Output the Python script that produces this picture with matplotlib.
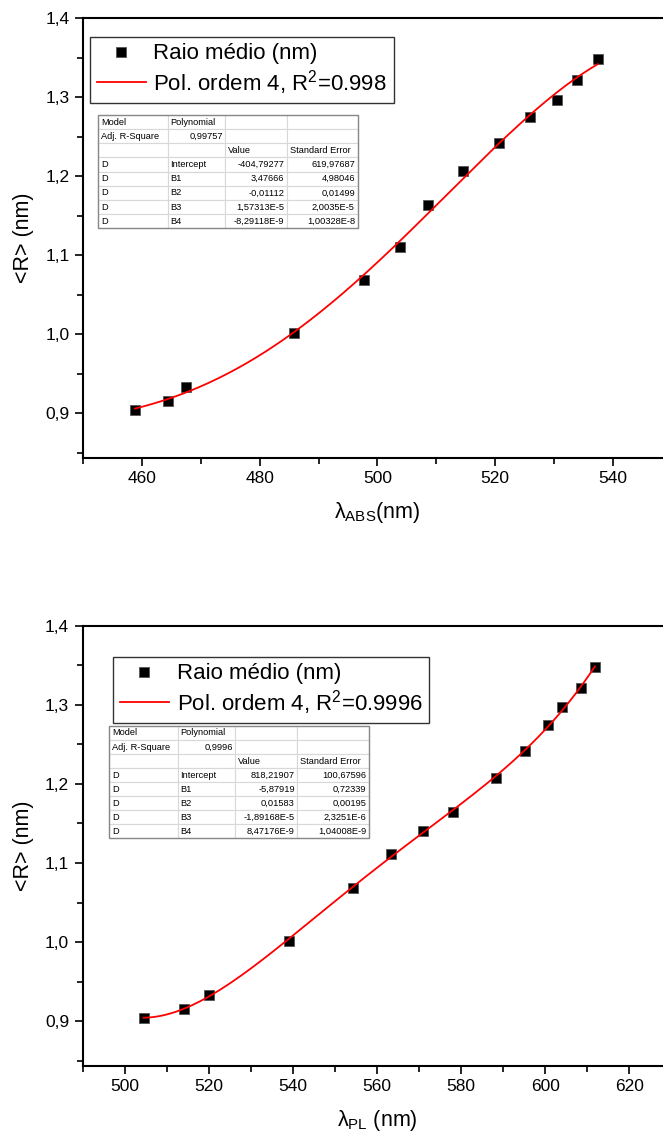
import numpy as np
import matplotlib
matplotlib.use("Agg")
import matplotlib.pyplot as plt
from matplotlib.ticker import MultipleLocator, FuncFormatter
from matplotlib.patches import Rectangle

plt.rcParams['font.family'] = ['Liberation Sans', 'DejaVu Sans']
plt.rcParams['mathtext.fontset'] = 'custom'
plt.rcParams['mathtext.rm'] = 'Liberation Sans'
plt.rcParams['mathtext.default'] = 'regular'

# top panel: absorption wavelength vs mean radius
abs_wl = [458.8, 464.4, 467.5, 485.9, 497.8, 503.9, 508.7, 514.6, 520.7, 526.0, 530.5, 533.9, 537.5]
abs_r = [0.904, 0.916, 0.933, 1.002, 1.069, 1.111, 1.164, 1.207, 1.242, 1.275, 1.297, 1.322, 1.349]

# bottom panel: PL wavelength vs mean radius
pl_wl = [504.4, 514.1, 520.0, 539.1, 554.2, 563.3, 570.8, 578.0, 588.3, 595.2, 600.6, 604.0, 608.5, 611.8]
pl_r = [0.904, 0.916, 0.933, 1.002, 1.069, 1.111, 1.141, 1.164, 1.207, 1.242, 1.274, 1.297, 1.321, 1.348]

abs_table = [["Model", "Polynomial", "", ""],
             ["Adj. R-Square", "0,99757", "", ""],
             ["", "", "Value", "Standard Error"],
             ["D", "Intercept", "-404,79277", "619,97687"],
             ["D", "B1", "3,47666", "4,98046"],
             ["D", "B2", "-0,01112", "0,01499"],
             ["D", "B3", "1,57313E-5", "2,0035E-5"],
             ["D", "B4", "-8,29118E-9", "1,00328E-8"]]

pl_table = [["Model", "Polynomial", "", ""],
            ["Adj. R-Square", "0,9996", "", ""],
            ["", "", "Value", "Standard Error"],
            ["D", "Intercept", "818,21907", "100,67596"],
            ["D", "B1", "-5,87919", "0,72339"],
            ["D", "B2", "0,01583", "0,00195"],
            ["D", "B3", "-1,89168E-5", "2,3251E-6"],
            ["D", "B4", "8,47176E-9", "1,04008E-9"]]

W, H = 663, 1135
fig = plt.figure(figsize=(W / 100, H / 100), dpi=100)

comma = FuncFormatter(lambda v, p: ("%.1f" % v).replace(".", ","))


def draw_table(ax, rows, bbox, widths):
    t = ax.table(cellText=rows, bbox=bbox, colWidths=widths, cellLoc='left', zorder=5)
    t.auto_set_font_size(False)
    t.set_fontsize(6.7)
    for (r, c), cell in t.get_celld().items():
        cell.set_edgecolor('#d8d8d8')
        cell.set_linewidth(0.8)
        cell.PAD = 0.04
        if (c >= 2 and r >= 3) or (r == 1 and c == 1):
            cell._loc = 'right'
            cell.get_text().set_ha('right')
    ax.add_patch(Rectangle((bbox[0], bbox[1]), bbox[2], bbox[3], transform=ax.transAxes,
                           fill=False, edgecolor='#888888', lw=1.0, zorder=6))


def panel(rect, x, y, xlim, label, r2, leg_anchor, rows, tbox, widths):
    ax = fig.add_axes(rect)
    coef = np.polyfit(x, y, 4)
    xf = np.linspace(min(x), max(x), 300)
    ax.plot(x, y, 's', color='black', ms=7.6, mec='#555555', mew=0.6, zorder=3,
            label='Raio médio (nm)')
    ax.plot(xf, np.polyval(coef, xf), color='red', lw=1.3, zorder=4,
            label='Pol. ordem 4, R$^2$=' + r2)
    ax.set_xlim(*xlim)
    ax.set_ylim(0.844, 1.4)
    ax.xaxis.set_major_locator(MultipleLocator(20))
    ax.xaxis.set_minor_locator(MultipleLocator(10))
    ax.yaxis.set_major_locator(MultipleLocator(0.1))
    ax.yaxis.set_minor_locator(MultipleLocator(0.05))
    ax.yaxis.set_major_formatter(comma)
    ax.tick_params(which='major', direction='out', length=6, width=1.2, labelsize=12.5, pad=4)
    ax.tick_params(which='minor', direction='out', length=4, width=1.2)
    for s in ax.spines.values():
        s.set_linewidth(1.5)
    ax.set_xlabel(label, fontsize=15.5, labelpad=10)
    ax.set_ylabel('<R> (nm)', fontsize=15.5, labelpad=8)
    leg = ax.legend(loc='upper left', bbox_to_anchor=leg_anchor, borderaxespad=0,
                    fontsize=16, frameon=True, fancybox=False, handlelength=2.2,
                    handletextpad=0.35, borderpad=0.3, labelspacing=0.15, numpoints=1)
    leg.get_frame().set_edgecolor('black')
    leg.get_frame().set_linewidth(1.0)
    draw_table(ax, rows, tbox, widths)
    return ax


# both axes run past the right edge of the image (cropped like the original)
panel([83.3 / W, 1 - 457.5 / H, 588 / W, 439.2 / H], abs_wl, abs_r, (450, 550),
      'λ$_{ABS}$(nm)', '0.998', (0.0114, 0.958), abs_table,
      [0.0255, 0.5219, 0.4412, 0.2579], [69.4, 57.3, 61.7, 71.0])

panel([83 / W, 1 - 1065.5 / H, 588.4 / W, 439.8 / H], pl_wl, pl_r, (490, 630),
      'λ$_{PL}$ (nm)', '0.9996', (0.0515, 0.9295), pl_table,
      [0.0447, 0.5166, 0.4419, 0.2554], [69.0, 56.7, 62.3, 72.0])

fig.savefig('out.png', dpi=100)
